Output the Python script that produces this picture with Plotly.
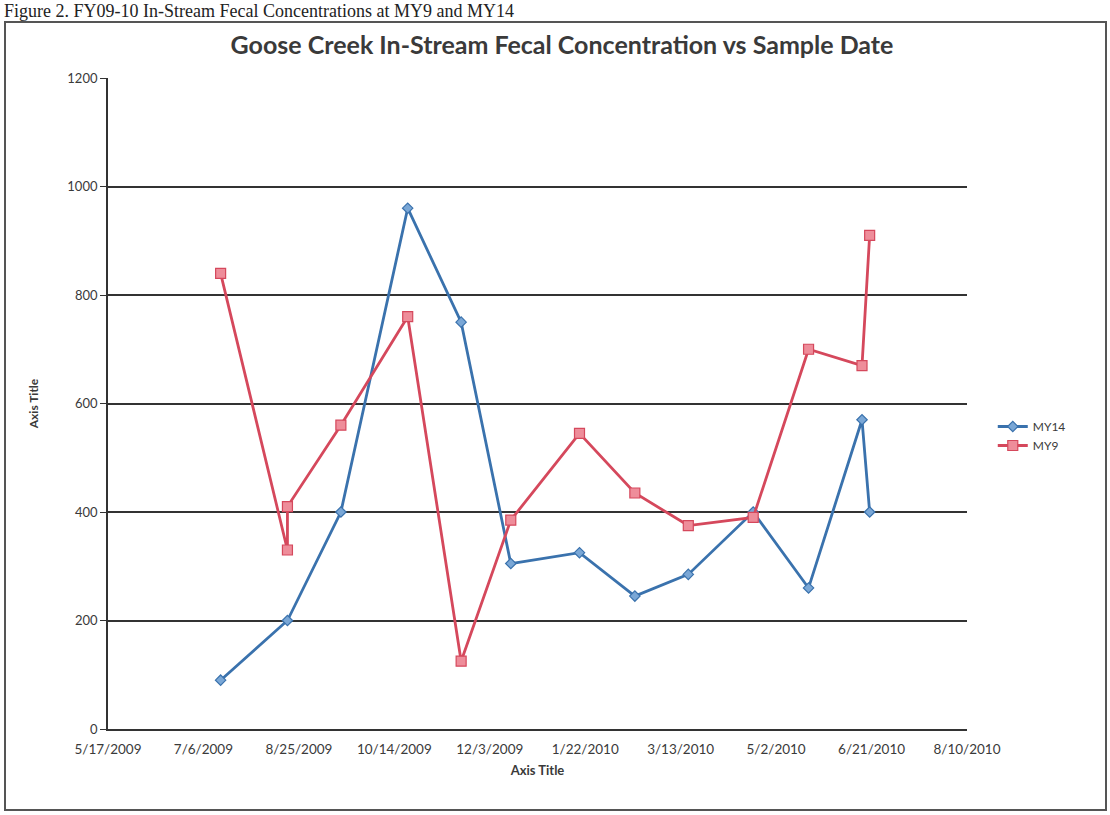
import plotly.graph_objects as go

# ---- data ----
dates_my14 = ["2009-07-15", "2009-08-19", "2009-09-16", "2009-10-21", "2009-11-18",
              "2009-12-14", "2010-01-19", "2010-02-17", "2010-03-17", "2010-04-20",
              "2010-05-19", "2010-06-16", "2010-06-20"]
my14 = [90, 200, 400, 960, 750, 305, 325, 245, 285, 400, 260, 570, 400]

dates_my9 = ["2009-07-15", "2009-08-19", "2009-08-19", "2009-09-16", "2009-10-21",
             "2009-11-18", "2009-12-14", "2010-01-19", "2010-02-17", "2010-03-17",
             "2010-04-20", "2010-05-19", "2010-06-16", "2010-06-20"]
my9 = [840, 330, 410, 560, 760, 125, 385, 545, 435, 375, 390, 700, 670, 910]

x_tick_vals = ["2009-05-17", "2009-07-06", "2009-08-25", "2009-10-14", "2009-12-03",
               "2010-01-22", "2010-03-13", "2010-05-02", "2010-06-21", "2010-08-10"]
x_tick_text = ["5/17/2009", "7/6/2009", "8/25/2009", "10/14/2009", "12/3/2009",
               "1/22/2010", "3/13/2010", "5/2/2010", "6/21/2010", "8/10/2010"]

title_text = "Goose Creek In-Stream Fecal Concentration vs Sample Date"
caption_text = "Figure 2. FY09-10 In-Stream Fecal Concentrations at MY9 and MY14"

BLUE = "#3a72ad"
RED = "#d5485c"
TXT = "#3a3a3a"

fig = go.Figure()
fig.add_trace(go.Scatter(
    x=dates_my14, y=my14, name="MY14", mode="lines+markers",
    line=dict(color=BLUE, width=2.8),
    marker=dict(symbol="diamond", size=8, color="#7aa7d6",
                line=dict(color=BLUE, width=1.2)),
))
fig.add_trace(go.Scatter(
    x=dates_my9, y=my9, name="MY9", mode="lines+markers",
    line=dict(color=RED, width=2.8),
    marker=dict(symbol="square", size=10, color="#ee8d9a",
                line=dict(color=RED, width=1.2)),
))

L, R, T, B = 108, 143, 78, 86
W, H = 1110, 815
pw, ph = W - L - R, H - T - B


def px(x):
    return (x - L) / pw


def py(y):
    return (H - B - y) / ph


fig.update_layout(
    width=W, height=H,
    margin=dict(l=L, r=R, t=T, b=B),
    paper_bgcolor="white", plot_bgcolor="white",
    font=dict(family="Lato, Open Sans, sans-serif", color=TXT, size=13),
    title=dict(text="<b>" + title_text + "</b>", x=px(562), xanchor="center",
               xref="paper", y=1 - 45 / H, yanchor="middle",
               font=dict(size=25, color="#3a3a3a", family="Lato, Open Sans, sans-serif")),
    showlegend=True,
    legend=dict(x=1.03, y=py(436), xanchor="left", yanchor="middle",
                font=dict(size=12, color=TXT), bgcolor="rgba(0,0,0,0)",
                itemwidth=30, tracegroupgap=2),
    xaxis=dict(
        type="date",
        range=["2009-05-17", "2010-08-10"],
        tickmode="array", tickvals=x_tick_vals, ticktext=x_tick_text,
        showgrid=False, showline=True, linecolor="#333333", linewidth=1.8,
        ticks="", tickfont=dict(size=13.5, color=TXT), ticklabelstandoff=7,
        title=dict(text="<b>Axis Title</b>", font=dict(size=13, color=TXT), standoff=10),
    ),
    yaxis=dict(
        range=[0, 1200], dtick=200, tick0=0,
        showgrid=True, gridcolor="#333333", gridwidth=1.6,
        showline=True, linecolor="#333333", linewidth=1.8,
        ticks="outside", ticklen=6, tickcolor="#333333",
        zeroline=False, tickfont=dict(size=13, color=TXT),
        title=dict(text="<b>Axis Title</b>", font=dict(size=12, color=TXT), standoff=26),
    ),
)

# outer chart border (scanned Excel chart area)
fig.add_shape(type="rect", xref="paper", yref="paper",
              x0=px(5), x1=px(1106), y0=py(810), y1=py(22),
              line=dict(color="#555555", width=2), fillcolor="rgba(0,0,0,0)", layer="below")

# caption at top of the scanned page
fig.add_annotation(text=caption_text, xref="paper", yref="paper",
                   x=px(2), y=py(11), xanchor="left", yanchor="middle", showarrow=False,
                   font=dict(family="Liberation Serif, Times New Roman, serif", size=18, color="#222222"))

fig.write_html("out.html", config={"displayModeBar": False},
               post_script="document.body.style.margin='0';")
